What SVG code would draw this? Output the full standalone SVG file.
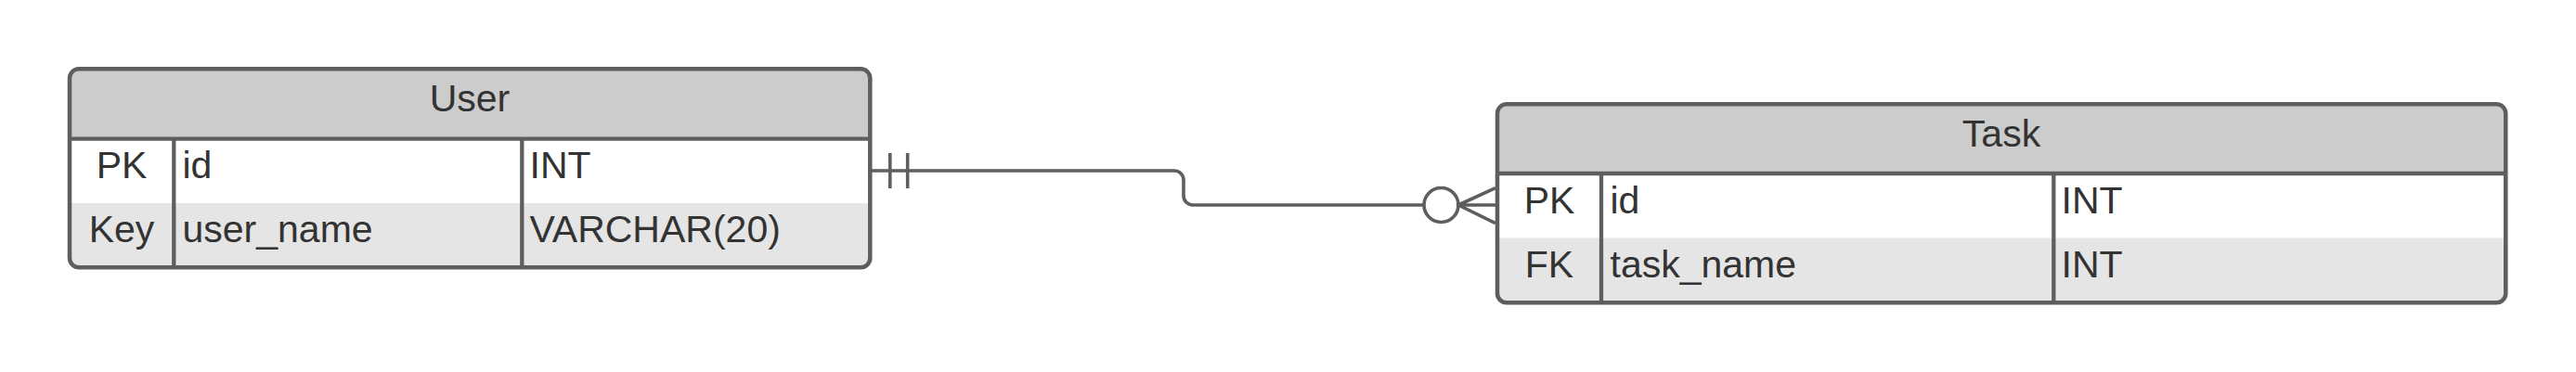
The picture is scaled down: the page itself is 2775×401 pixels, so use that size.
<svg xmlns="http://www.w3.org/2000/svg" width="2775" height="401" viewBox="0 0 2775 401">
<style>
.t{font-family:"Liberation Sans",Arial,sans-serif;font-size:41px;fill:#333333}
.m{text-anchor:middle}
.hdr{fill:#cccccc}
.r1{fill:#ffffff}
.r2{fill:#e5e5e5}
.bd{fill:none;stroke:#5e5e5e;stroke-width:4.5}
.dv{stroke:#5e5e5e;stroke-width:4.3;fill:none}
.cn{fill:none;stroke:#5e5e5e;stroke-width:3.6;stroke-linejoin:round}
</style>
<defs>
<clipPath id="cu"><rect x="75" y="74.3" width="862.3" height="214" rx="10"/></clipPath>
<clipPath id="ct"><rect x="1613" y="112.3" width="1086.3" height="214" rx="10"/></clipPath>
</defs>
<rect width="2775" height="401" fill="#ffffff"/>
<g id="user">
<g clip-path="url(#cu)">
<rect class="hdr" x="75" y="74.3" width="862.3" height="75.4"/>
<rect class="r1" x="75" y="149.7" width="862.3" height="69.3"/>
<rect class="r2" x="75" y="219" width="862.3" height="69.3"/>
</g>
<line class="dv" x1="75" y1="149.7" x2="937.3" y2="149.7"/>
<line class="dv" x1="187.3" y1="149.7" x2="187.3" y2="288.3"/>
<line class="dv" x1="562.3" y1="149.7" x2="562.3" y2="288.3"/>
<rect class="bd" x="75" y="74.3" width="862.3" height="214" rx="10"/>
<text class="t m" x="506" y="120">User</text>
<text class="t m" x="131" y="191.5">PK</text>
<text class="t" x="196.5" y="191.5">id</text>
<text class="t" x="570.5" y="191.5">INT</text>
<text class="t m" x="131" y="261">Key</text>
<text class="t" x="196.5" y="261">user_name</text>
<text class="t" x="570.5" y="261">VARCHAR(20)</text>
</g>
<g id="task">
<g clip-path="url(#ct)">
<rect class="hdr" x="1613" y="112.3" width="1086.3" height="74.7"/>
<rect class="r1" x="1613" y="187" width="1086.3" height="69.5"/>
<rect class="r2" x="1613" y="256.5" width="1086.3" height="69.8"/>
</g>
<line class="dv" x1="1613" y1="187" x2="2699.3" y2="187"/>
<line class="dv" x1="1725" y1="187" x2="1725" y2="326.3"/>
<line class="dv" x1="2212.3" y1="187" x2="2212.3" y2="326.3"/>
<rect class="bd" x="1613" y="112.3" width="1086.3" height="214" rx="10"/>
<text class="t m" x="2156" y="158">Task</text>
<text class="t m" x="1669" y="229.5">PK</text>
<text class="t" x="1734.5" y="229.5">id</text>
<text class="t" x="2220.5" y="229.5">INT</text>
<text class="t m" x="1669" y="299">FK</text>
<text class="t" x="1734.5" y="299">task_name</text>
<text class="t" x="2220.5" y="299">INT</text>
</g>
<g id="connectors">
<path class="cn" d="M937.3,184 H1265 A10,10 0 0 1 1275,194 V211 A10,10 0 0 0 1285,221 H1534"/>
<line class="cn" x1="958.8" y1="165" x2="958.8" y2="203" stroke-width="4.2"/>
<line class="cn" x1="977.7" y1="165" x2="977.7" y2="203" stroke-width="4.2"/>
<circle class="cn" cx="1552.5" cy="221" r="18.5" fill="#ffffff"/>
<path class="cn" d="M1611,202.7 L1571,221 L1611,240.7 M1571,221 H1611"/>
</g>
</svg>
